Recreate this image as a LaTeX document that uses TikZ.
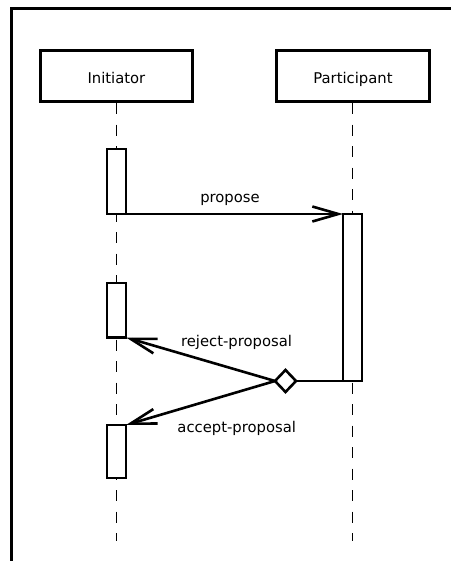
\documentclass[tikz,border=0pt]{standalone}
\usepackage{fontspec}
\setmainfont{DejaVu Sans}
\usetikzlibrary{arrows.meta,shapes.geometric}
\begin{document}
\begin{tikzpicture}[x=1pt,y=-1pt,
  every node/.style={font=\fontsize{14.8}{17}\selectfont},
  head/.style={draw, line width=3pt, fill=white, minimum width=152.5pt,
    minimum height=51.4pt, inner sep=0pt, text height=17.7pt, text depth=3.1pt},
  act/.style={draw, line width=2.6pt, fill=white, inner sep=0pt, outer sep=0pt,
    minimum width=19pt},
  life/.style={line width=1.4pt, dash pattern=on 11pt off 10.5pt},
  msg/.style={line width=2.6pt,
    -{Straight Barb[length=26pt,width=15pt,line width=2.6pt]}},
  link/.style={line width=2.6pt},
  lbl/.style={anchor=base, inner sep=0pt},
  choice/.style={draw, diamond, line width=2.6pt, fill=white, inner sep=0pt,
    outer sep=0pt, minimum width=21pt, minimum height=22pt},
  frame/.style={line width=2.8pt}
]
\useasboundingbox (0,0) rectangle (451,561);

% enclosing frame (open to the right and bottom)
\draw[frame] (11.5,561) |- (451,8.7);

% participants
\node[head] (ini) at (116.4,76) {Initiator};
\node[head] (par) at (353,76) {Participant};

% lifelines
\coordinate (iniEnd) at (116.5,541);
\coordinate (parEnd) at (352.5,541);
\draw[life] (ini.south -| iniEnd) -- (iniEnd);
\draw[life] (par.south -| parEnd) -- (parEnd);

% activation bars
\node[act, minimum height=65pt]   (a1) at (116.5,181.5) {};
\node[act, minimum height=54.5pt] (a2) at (116.5,310.25) {};
\node[act, minimum height=53pt]   (a3) at (116.5,451.5) {};
\node[act, minimum height=167pt]  (ap) at (352.5,297.5) {};

% propose
\draw[msg] (a1.south east) -- (ap.north west);
\node[lbl] (lpropose) at (230,202) {propose};

% decision point and the two replies
\node[choice] (split) at (285.5,381) {};
\draw[link] (split.east) -- (ap.south west);
\draw[msg] (split.west) -- (a2.south east);
\draw[msg] (split.west) -- (a3.north east);
\node[lbl] (lreject) at (236.5,346) {reject-proposal};
\node[lbl] (laccept) at (236.7,432.3) {accept-proposal};
\end{tikzpicture}
\end{document}
